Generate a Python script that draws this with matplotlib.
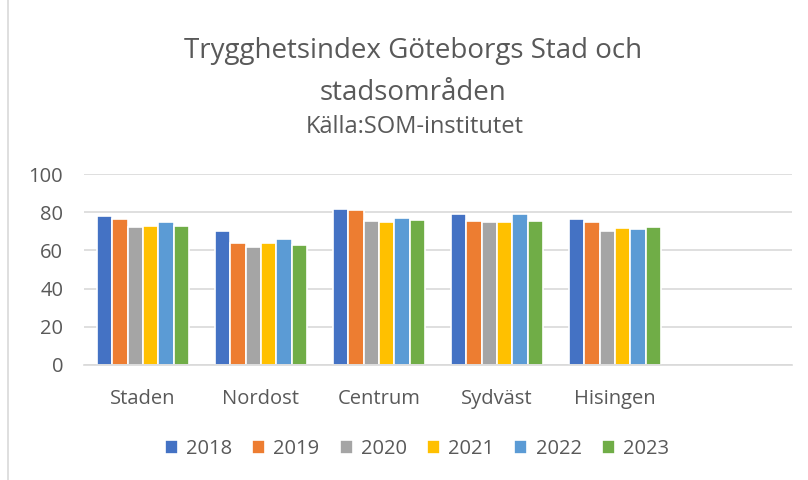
import numpy as np
import matplotlib
matplotlib.use("Agg")
import matplotlib.pyplot as plt
from matplotlib.patches import Rectangle

plt.rcParams["font.family"] = ["Open Sans", "DejaVu Sans"]

categories = ["Staden", "Nordost", "Centrum", "Sydväst", "Hisingen", ""]
years = ["2018", "2019", "2020", "2021", "2022", "2023"]
colors = ["#4472c4", "#ed7d31", "#a5a5a5", "#ffc000", "#5b9bd5", "#70ad47"]

v2018 = [78.2, 70.0, 81.6, 79.1, 76.5, np.nan]
v2019 = [76.3, 63.8, 81.4, 75.6, 74.9, np.nan]
v2020 = [72.3, 61.7, 75.6, 75.1, 70.3, np.nan]
v2021 = [72.8, 63.7, 75.1, 75.1, 71.7, np.nan]
v2022 = [75.1, 65.9, 77.0, 79.1, 71.0, np.nan]
v2023 = [73.0, 62.8, 75.9, 75.4, 72.3, np.nan]
series = [v2018, v2019, v2020, v2021, v2022, v2023]

fig = plt.figure(figsize=(8.08, 4.8), dpi=100)
ax = fig.add_axes([0.104, 0.2396, 0.876, 0.3979])

x = np.arange(len(categories))
slot = 0.13
for i, (vals, col, yr) in enumerate(zip(series, colors, years)):
    offs = (i - 2.5) * slot
    ax.bar(x + offs, vals, width=slot, color=col, edgecolor="white",
           linewidth=1.2, label=yr, zorder=3)

ax.set_xlim(-0.5, len(categories) - 0.5)
ax.set_ylim(0, 100)
ax.set_yticks(range(0, 101, 20))
ax.yaxis.grid(True, color="#d9d9d9", linewidth=1.2, zorder=0)
ax.set_axisbelow(True)
for s in ("top", "right", "left"):
    ax.spines[s].set_visible(False)
ax.spines["bottom"].set_color("#d9d9d9")
ax.spines["bottom"].set_linewidth(1.2)
ax.spines["bottom"].set_zorder(4)
ax.set_xticks(x)
ax.set_xticklabels(categories)
ax.tick_params(axis="both", length=0, labelsize=14.5, labelcolor="#595959")
ax.tick_params(axis="x", pad=17)
ax.tick_params(axis="y", pad=15)

fig.text(0.511, 0.893, "Trygghetsindex Göteborgs Stad och", ha="center",
         va="center", fontsize=20, color="#595959")
fig.text(0.511, 0.806, "stadsområden", ha="center", va="center",
         fontsize=20, color="#595959")
fig.text(0.513, 0.735, "Källa:SOM-institutet", ha="center", va="center",
         fontsize=17, color="#595959")

fig.legend(loc="center", bbox_to_anchor=(0.516, 0.064), ncol=6, frameon=False,
           fontsize=14.5, handlelength=0.65, handleheight=0.65,
           handletextpad=0.4, columnspacing=1.0, labelcolor="#595959")

fig.patches.append(Rectangle((0.01, -0.01), 0.995, 1.02, transform=fig.transFigure,
                             fill=False, edgecolor="#d9d9d9", linewidth=1.2))

fig.savefig("out.png", dpi=100)
